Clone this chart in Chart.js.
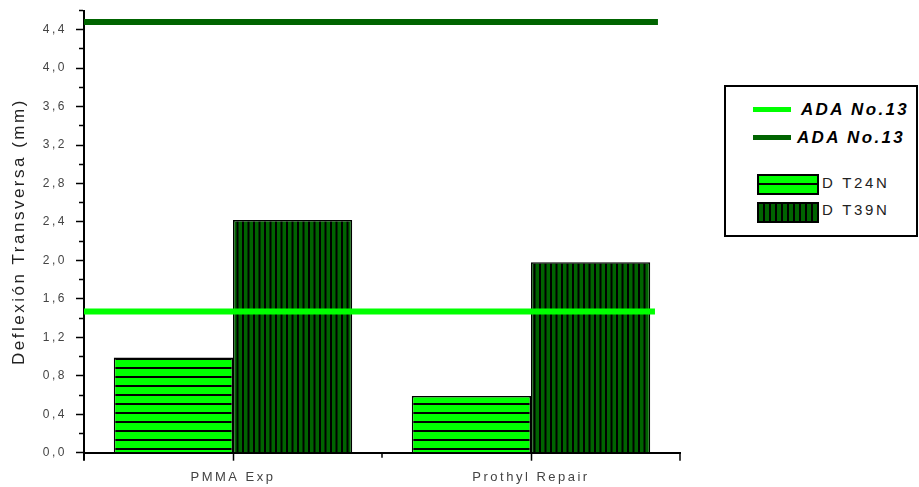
<!DOCTYPE html>
<html>
<head>
<meta charset="utf-8">
<script src="https://cdn.jsdelivr.net/npm/chart.js@4/dist/chart.umd.min.js"></script>
<style>
html,body{margin:0;padding:0;background:#fff;}
#wrap{position:relative;width:919px;height:487px;overflow:hidden;}
#c{position:absolute;left:0;top:0;}
#legend{position:absolute;left:724px;top:85px;width:190px;height:148px;border:2px solid #000;background:#fff;font-family:"Liberation Sans",Arial,sans-serif;}
#legend .it{position:absolute;white-space:nowrap;}
</style>
</head>
<body>
<div id="wrap">
  <canvas id="c" width="919" height="487"></canvas>
  <div id="legend"></div>
</div>
<script>
// ---- data ----
const categories = ['PMMA Exp', 'Prothyl Repair'];
const seriesNames = ['D T24N', 'D T39N'];
const dt24n = [0.99, 0.59];
const dt39n = [2.42, 1.98];
const refNames = ['ADA No.13', 'ADA No.13'];
const refLight = 1.47;
const refDark = 4.48;
const refStart = -0.5;        // reference lines start at the left edge of the first category
const refLightEnd = 1.416;    // ... and stop a little before the right edge of the last one
const refDarkEnd = 1.426;
const yMin = 0, yMax = 4.6, yStep = 0.2;
const yTitle = 'Deflexión Transversa (mm)';

// ---- styles ----
const LIGHT = '#00ff00';
const DARK = '#006400';
const FONT = '"Liberation Sans", Arial, sans-serif';
Chart.defaults.font.family = FONT;

const canvas = document.getElementById('c');
const ctx = canvas.getContext('2d');

function hStripe() {
  const t = document.createElement('canvas');
  t.width = 9; t.height = 9;
  const g = t.getContext('2d');
  g.fillStyle = LIGHT; g.fillRect(0, 0, 9, 9);
  g.fillStyle = '#000'; g.fillRect(0, 7, 9, 2);
  return ctx.createPattern(t, 'repeat');
}
function vStripe() {
  const t = document.createElement('canvas');
  t.width = 11; t.height = 11;
  const g = t.getContext('2d');
  g.fillStyle = DARK; g.fillRect(0, 0, 11, 11);
  g.fillStyle = '#000'; g.fillRect(0, 0, 2, 11); g.fillRect(5.5, 0, 2, 11);
  return ctx.createPattern(t, 'repeat');
}

const spacing = {
  id: 'spacing',
  beforeLayout(chart) { chart.ctx.letterSpacing = '2.5px'; },
  beforeDraw(chart) { chart.ctx.letterSpacing = '2.5px'; }
};

// short tick marks at the category boundaries
const edgeTicks = {
  id: 'edgeTicks',
  afterDraw(chart) {
    const xs = chart.scales.x;
    const c = chart.ctx;
    const n = categories.length;
    c.save();
    c.strokeStyle = '#000';
    for (let i = 0; i <= n; i++) {
      const p = xs.getPixelForValue(i - 0.5);
      const edge = (i === 0 || i === n);
      c.lineWidth = i === 0 ? 2 : 1.5;
      c.beginPath();
      c.moveTo(p, xs.top);
      c.lineTo(p, xs.top + (edge ? 8 : 5));
      c.stroke();
    }
    c.restore();
  }
};

const chart = new Chart(ctx, {
  data: {
    datasets: [
      { type: 'line', label: refNames[0], order: 0,
        data: [{x: refStart, y: refLight}, {x: refLightEnd, y: refLight}],
        borderColor: LIGHT, borderWidth: 6, pointRadius: 0, fill: false },
      { type: 'line', label: refNames[1], order: 0,
        data: [{x: refStart, y: refDark}, {x: refDarkEnd, y: refDark}],
        borderColor: DARK, borderWidth: 6, pointRadius: 0, fill: false },
      { type: 'bar', label: seriesNames[0], order: 1,
        data: dt24n.map((v, i) => ({x: i, y: v})),
        backgroundColor: hStripe(), borderColor: '#000', borderWidth: 1.5,
        barPercentage: 1, categoryPercentage: 0.8 },
      { type: 'bar', label: seriesNames[1], order: 1,
        data: dt39n.map((v, i) => ({x: i, y: v})),
        backgroundColor: vStripe(), borderColor: '#000', borderWidth: 1.5,
        barPercentage: 1, categoryPercentage: 0.8 }
    ]
  },
  options: {
    responsive: false,
    animation: false,
    devicePixelRatio: 1,
    layout: { padding: { top: 10.5, right: 239, bottom: 0, left: 0 } },
    plugins: { legend: { display: false }, tooltip: { enabled: false } },
    scales: {
      x: {
        type: 'linear',
        position: 'bottom',
        offset: false,
        min: -0.5, max: categories.length - 0.5,
        afterBuildTicks(s) { s.ticks = categories.map((_, i) => ({ value: i })); },
        grid: { display: true, drawOnChartArea: false, offset: false, tickLength: 8, tickColor: '#000', tickWidth: 1.5 },
        border: { display: true, color: '#000', width: 2 },
        ticks: { color: '#444', font: { size: 13 }, padding: 9, maxRotation: 0, autoSkip: false,
                 callback: (v) => categories[v] ?? '' },
        afterFit(s) { s.height = 34.3; s.paddingLeft = 0; s.paddingRight = 0; }
      },
      y: {
        type: 'linear',
        position: 'left',
        min: yMin, max: yMax,
        grid: { display: true, drawOnChartArea: false, tickLength: 8, tickColor: '#000', tickWidth: 1.5,
                tickBorderDash: (c) => (c.index % 2 === 0 ? [] : [0, 3, 5]) },
        border: { display: true, color: '#000', width: 2 },
        ticks: { stepSize: yStep, autoSkip: false, color: '#444', font: { size: 12 }, padding: 9,
                 callback: (v, i) => (i % 2 === 0 ? Number(v).toFixed(1).replace('.', ',') : '') },
        title: { display: true, text: yTitle, color: '#222', font: { size: 17 }, padding: { top: 9, bottom: 0 } },
        afterFit(s) { s.width = 84; s.paddingTop = 0; s.paddingBottom = 0; }
      }
    }
  },
  plugins: [spacing, edgeTicks]
});

// ---- HTML legend built from the dataset names ----
const legend = document.getElementById('legend');
function add(text, style) {
  const d = document.createElement('div');
  d.className = 'it';
  d.style.cssText = style;
  d.textContent = text;
  legend.appendChild(d);
  return d;
}
add('', `left:27px;top:19.5px;width:38px;height:5px;background:${LIGHT};`);
add(refNames[0], 'left:75px;top:13px;font-size:17px;line-height:20px;font-weight:bold;font-style:italic;letter-spacing:2.3px;color:#000;');
add('', `left:27px;top:47.5px;width:38px;height:5.5px;background:${DARK};`);
add(refNames[1], 'left:71px;top:40.5px;font-size:17px;line-height:20px;font-weight:bold;font-style:italic;letter-spacing:2.3px;color:#000;');
add('', `left:31px;top:87px;width:58px;height:17px;border:2px solid #000;background:linear-gradient(to bottom, ${LIGHT} 0 7.5px, #000 7.5px 9.5px, ${LIGHT} 9.5px 17px);`);
add(seriesNames[0], 'left:96px;top:87px;font-size:15px;line-height:18px;letter-spacing:2.7px;color:#222;');
add('', `left:31px;top:115px;width:58px;height:17px;border:2px solid #000;background:repeating-linear-gradient(to right, ${DARK} 0 4px, #000 4px 6px);`);
add(seriesNames[1], 'left:96px;top:114px;font-size:15px;line-height:18px;letter-spacing:2.7px;color:#222;');
</script>
</body>
</html>
